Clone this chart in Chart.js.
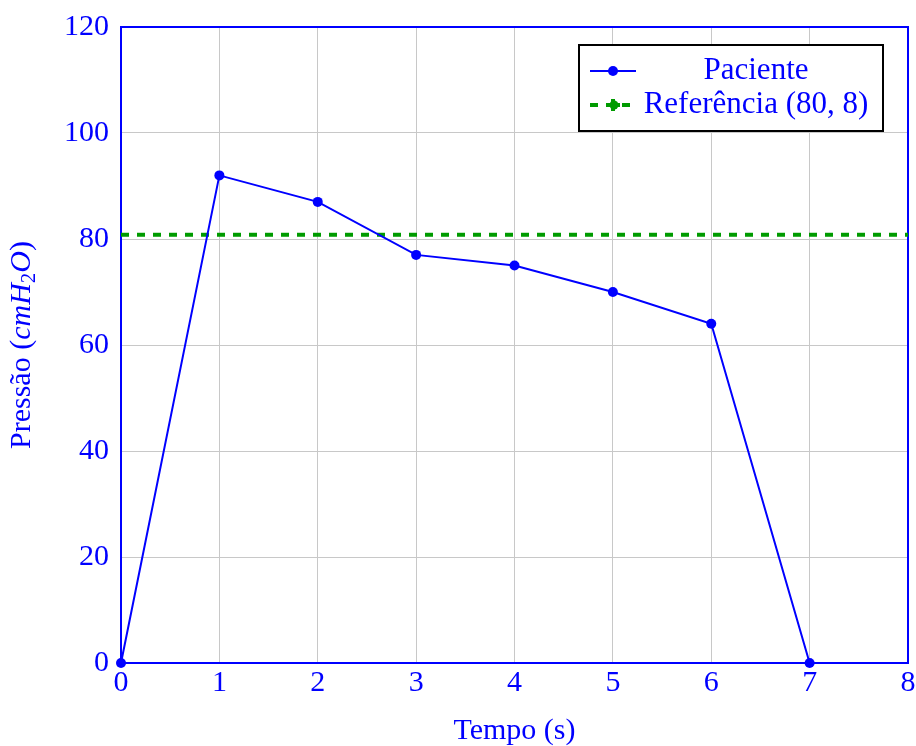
<!DOCTYPE html>
<html>
<head>
<meta charset="utf-8">
<script src="https://cdn.jsdelivr.net/npm/chart.js@4.4.1/dist/chart.umd.min.js"></script>
<style>
  html, body { margin: 0; padding: 0; background: #fff; }
  #wrap { width: 916px; height: 746px; position: relative; }
</style>
</head>
<body>
<div id="wrap"><canvas id="myChart" width="916" height="746"></canvas></div>
<script>
'use strict';
// chart data
var timeValues = [0, 1, 2, 3, 4, 5, 6, 7];
var pressureValues = [0, 92, 87, 77, 75, 70, 64, 0];
var referenceValue = 80.8;
var referenceRange = [0, 8];
var xTicks = [0, 1, 2, 3, 4, 5, 6, 7, 8];
var yTicks = [0, 20, 40, 60, 80, 100, 120];
var seriesNames = ['Paciente', 'Referência (80, 8)'];

var blue = 'rgb(0,0,255)';
var green = 'rgb(0,155,0)';
var serif = '"Liberation Serif", "Times New Roman", serif';

var patientPoints = [];
for (var i = 0; i < timeValues.length; i++) {
  patientPoints.push({ x: timeValues[i], y: pressureValues[i] });
}
var referencePoints = [
  { x: referenceRange[0], y: referenceValue },
  { x: referenceRange[1], y: referenceValue }
];

// frame, titles and legend
var decorations = {
  id: 'decorations',
  beforeDatasetsDraw: function (chart) {
    var ctx = chart.ctx;
    var a = chart.chartArea;
    ctx.save();
    // blue frame
    ctx.strokeStyle = blue;
    ctx.lineWidth = 2;
    ctx.strokeRect(a.left, a.top, a.right - a.left, a.bottom - a.top);
    ctx.restore();
  },
  afterDraw: function (chart) {
    var ctx = chart.ctx;
    var a = chart.chartArea;
    ctx.save();

    // x title
    ctx.fillStyle = blue;
    ctx.font = '30px ' + serif;
    ctx.textAlign = 'center';
    ctx.textBaseline = 'middle';
    ctx.fillText('Tempo (s)', (a.left + a.right) / 2, 731);

    // y title with italic parts
    var parts = [
      { t: 'Pressão (', f: '30px ' + serif, dy: 0 },
      { t: 'cmH', f: 'italic 30px ' + serif, dy: 0 },
      { t: '2', f: '21px ' + serif, dy: 7 },
      { t: 'O', f: 'italic 30px ' + serif, dy: 0 },
      { t: ')', f: '30px ' + serif, dy: 0 }
    ];
    var total = 0;
    parts.forEach(function (p) { ctx.font = p.f; p.w = ctx.measureText(p.t).width; total += p.w; });
    ctx.translate(22, (a.top + a.bottom) / 2);
    ctx.rotate(-Math.PI / 2);
    ctx.textAlign = 'left';
    var px = -total / 2;
    parts.forEach(function (p) {
      ctx.font = p.f;
      ctx.fillText(p.t, px, p.dy);
      px += p.w;
    });
    ctx.setTransform(1, 0, 0, 1, 0, 0);

    // legend
    var bx = 579, by = 45, bw = 304, bh = 86;
    ctx.fillStyle = '#fff';
    ctx.fillRect(bx, by, bw, bh);
    ctx.strokeStyle = '#000';
    ctx.lineWidth = 2;
    ctx.strokeRect(bx, by, bw, bh);

    var rows = [by + 26, by + 60];
    // patient sample
    ctx.strokeStyle = blue;
    ctx.lineWidth = 2;
    ctx.beginPath();
    ctx.moveTo(590, rows[0]);
    ctx.lineTo(636, rows[0]);
    ctx.stroke();
    ctx.fillStyle = blue;
    ctx.beginPath();
    ctx.arc(613, rows[0], 5, 0, Math.PI * 2);
    ctx.fill();
    // reference sample
    ctx.strokeStyle = green;
    ctx.lineWidth = 4;
    ctx.setLineDash([8, 8]);
    ctx.beginPath();
    ctx.moveTo(590, rows[1]);
    ctx.lineTo(636, rows[1]);
    ctx.stroke();
    ctx.setLineDash([]);
    ctx.fillStyle = green;
    ctx.fillRect(606, rows[1] - 2, 14, 4);
    ctx.fillRect(611, rows[1] - 6, 4, 12);
    ctx.beginPath();
    ctx.arc(614, rows[1], 4.5, 0, Math.PI * 2);
    ctx.fill();

    ctx.fillStyle = blue;
    ctx.font = '31px ' + serif;
    ctx.textAlign = 'center';
    ctx.textBaseline = 'middle';
    ctx.fillText(seriesNames[0], 756, rows[0]);
    ctx.fillText(seriesNames[1], 756, rows[1]);
    ctx.restore();
  }
};

var ctx = document.getElementById('myChart').getContext('2d');
var chart = new Chart(ctx, {
  type: 'line',
  data: {
    datasets: [{
      label: seriesNames[0],
      data: patientPoints,
      borderColor: blue,
      backgroundColor: blue,
      borderWidth: 2,
      pointRadius: 5,
      pointHoverRadius: 5,
      pointBackgroundColor: blue,
      pointBorderWidth: 0,
      tension: 0,
      clip: false,
      order: 0
    },
    {
      label: seriesNames[1],
      data: referencePoints,
      borderColor: green,
      backgroundColor: green,
      borderWidth: 4,
      borderDash: [8, 8],
      pointRadius: 0,
      tension: 0,
      order: 1
    }]
  },
  options: {
    responsive: false,
    animation: false,
    events: [],
    layout: { padding: { top: 27, right: 8, left: 0, bottom: 0 } },
    plugins: {
      legend: { display: false },
      tooltip: { enabled: false }
    },
    scales: {
      x: {
        type: 'linear',
        min: 0,
        max: 8,
        afterBuildTicks: function (s) { s.ticks = xTicks.map(function (v) { return { value: v }; }); },
        afterFit: function (s) { s.height = 83; s.paddingLeft = 0; s.paddingRight = 0; },
        grid: { color: 'rgb(200,200,200)', lineWidth: 1, drawTicks: false },
        border: { display: false },
        ticks: { color: blue, font: { family: serif, size: 30 }, padding: 2, maxRotation: 0 }
      },
      y: {
        min: 0,
        max: 120,
        afterBuildTicks: function (s) { s.ticks = yTicks.map(function (v) { return { value: v }; }); },
        afterFit: function (s) { s.width = 121; s.paddingTop = 0; s.paddingBottom = 0; },
        grid: { color: 'rgb(200,200,200)', lineWidth: 1, drawTicks: false },
        border: { display: false },
        ticks: { color: blue, font: { family: serif, size: 30 }, padding: 12 }
      }
    }
  },
  plugins: [decorations]
});
</script>
</body>
</html>
